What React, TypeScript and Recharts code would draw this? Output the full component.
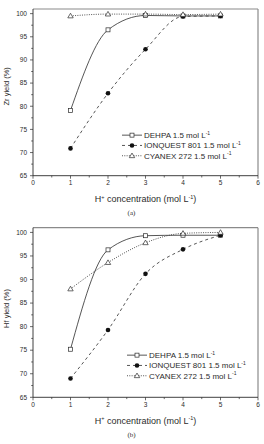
import React from 'react';
import { LineChart, Line, XAxis, YAxis, ReferenceLine } from 'recharts';

const FONT = '"Liberation Sans", Arial, sans-serif';
const INK = '#2b2b2b';

// H+ concentration (mol/L)
const concentrations = [1, 2, 3, 4, 5];
const xTicks = [0, 0.5, 1, 1.5, 2, 2.5, 3, 3.5, 4, 4.5, 5, 5.5, 6];
const yTicks = [65, 67.5, 70, 72.5, 75, 77.5, 80, 82.5, 85, 87.5, 90, 92.5, 95, 97.5, 100];

// (a) Zr yield (%)
const zrDehpa = [79.1, 96.5, 99.6, 99.5, 99.5];
const zrIonquest = [70.9, 82.8, 92.3, 99.4, 99.5];
const zrCyanex = [99.5, 99.9, 99.9, 99.8, 99.9];

// (b) Hf yield (%)
const hfDehpa = [75.2, 96.3, 99.3, 99.4, 99.4];
const hfIonquest = [69.0, 79.3, 91.2, 96.4, 99.4];
const hfCyanex = [88.0, 93.6, 97.8, 99.8, 100.0];

const seriesNames = ['DEHPA', 'IONQUEST 801', 'CYANEX 272'];
const dashes = ['', '3 3', '1 1.3'];

function buildRows(dehpa: number[], ionquest: number[], cyanex: number[]) {
  return concentrations.map((c, i) => ({
    c,
    dehpa: dehpa[i],
    ionquest: ionquest[i],
    cyanex: cyanex[i],
  }));
}

const squareDot = (p: any) => (
  <rect key={`sq-${p.index}`} x={p.cx - 2} y={p.cy - 2} width={4} height={4} fill="#fff" stroke={INK} strokeWidth={0.7} />
);
const circleDot = (p: any) => <circle key={`ci-${p.index}`} cx={p.cx} cy={p.cy} r={2.3} fill="#111" />;
const triangleDot = (p: any) => (
  <path
    key={`tr-${p.index}`}
    d={`M${p.cx},${p.cy - 2.7}L${p.cx - 2.7},${p.cy + 1.9}L${p.cx + 2.7},${p.cy + 1.9}Z`}
    fill="#fff"
    stroke={INK}
    strokeWidth={0.7}
  />
);
const markers = [squareDot, circleDot, triangleDot];

function XTick(props: any) {
  const { x, y, payload } = props;
  const major = Number.isInteger(payload.value);
  return (
    <g>
      <line x1={x} x2={x} y1={y} y2={y + (major ? 3 : 1.8)} stroke={INK} strokeWidth={0.7} />
      {major && (
        <text x={x} y={y + 9.5} textAnchor="middle" fontSize={6.5} fontFamily={FONT} fill={INK}>
          {payload.value}
        </text>
      )}
    </g>
  );
}

function YTick(props: any) {
  const { x, y, payload } = props;
  const major = payload.value % 5 === 0;
  return (
    <g>
      <line x1={x} x2={x - (major ? 3 : 1.8)} y1={y} y2={y} stroke={INK} strokeWidth={0.7} />
      {major && (
        <text x={x - 6} y={y + 2.3} textAnchor="end" fontSize={6.5} fontFamily={FONT} fill={INK}>
          {payload.value}
        </text>
      )}
    </g>
  );
}

// legend drawn as an overlay so it does not take room from the plot
function LegendBox({ left, top }: { left: number; top: number }) {
  const rowH = 10.3;
  return (
    <svg
      width={140}
      height={32}
      style={{ position: 'absolute', left, top, overflow: 'visible' }}
    >
      {seriesNames.map((name, i) => {
        const cy = rowH / 2 + i * rowH;
        return (
          <g key={name}>
            <line x1={0} x2={20} y1={cy} y2={cy} stroke={INK} strokeWidth={0.8} strokeDasharray={dashes[i] || undefined} />
            {markers[i]({ cx: 10, cy, index: i })}
            <text x={22} y={cy + 2.9} fontSize={8} fontFamily={FONT} fill={INK}>
              {name} 1.5 mol L<tspan fontSize={5} dy={-3.3}>-1</tspan>
            </text>
          </g>
        );
      })}
    </svg>
  );
}

interface PanelProps {
  top: number;
  height: number;
  plotTop: number;
  plotBottom: number;
  metal: string;
  tag: string;
  rows: any[];
  legendLeft: number;
  legendTop: number;
  yTitleShift: number;
}

function Panel({ top, height, plotTop, plotBottom, metal, tag, rows, legendLeft, legendTop, yTitleShift }: PanelProps) {
  const axisH = 40;
  return (
    <div style={{ position: 'absolute', left: 0, top, width: 264, height }}>
      <LineChart
        width={264}
        height={height}
        data={rows}
        margin={{ top: plotTop, right: 6, left: 0, bottom: height - plotBottom - axisH }}
      >
        <XAxis
          dataKey="c"
          type="number"
          domain={[0, 6]}
          ticks={xTicks}
          interval={0}
          height={axisH}
          tickSize={0}
          tickMargin={0}
          tick={<XTick />}
          axisLine={{ stroke: INK, strokeWidth: 0.9 }}
          label={{
            content: (lp: any) => {
              const vb = lp.viewBox || { x: 33, y: plotBottom, width: 225 };
              const cx = vb.x + vb.width / 2;
              return (
                <g>
                  <text x={cx} y={vb.y + 26.5} textAnchor="middle" fontSize={9} fontFamily={FONT} fill={INK}>
                    H<tspan fontSize={5.5} dy={-3.5}>+</tspan>
                    <tspan dy={3.5}> concentration (mol L</tspan>
                    <tspan fontSize={5.5} dy={-3.5}>-1</tspan>
                    <tspan dy={3.5}>)</tspan>
                  </text>
                  <text x={131.5} y={vb.y + 39.5} textAnchor="middle" fontSize={7} fontFamily='"Liberation Serif", serif' fill={INK}>
                    {tag}
                  </text>
                </g>
              );
            },
          }}
        />
        <YAxis
          type="number"
          domain={[65, 101]}
          ticks={yTicks}
          interval={0}
          width={33}
          tickSize={0}
          tickMargin={0}
          tick={<YTick />}
          allowDataOverflow
          axisLine={{ stroke: INK, strokeWidth: 0.9 }}
          label={{
            content: (lp: any) => {
              const vb = lp.viewBox || { x: 0, y: plotTop, height: plotBottom - plotTop };
              const cy = vb.y + vb.height / 2 + yTitleShift;
              return (
                <text
                  x={9}
                  y={cy}
                  transform={`rotate(-90, 9, ${cy})`}
                  textAnchor="middle"
                  fontSize={7.5}
                  fontFamily={FONT}
                  fill={INK}
                >
                  {metal} yield (%)
                </text>
              );
            },
          }}
        />
        <ReferenceLine y={101} stroke="#8a8a8a" strokeWidth={1.2} />
        <ReferenceLine x={6} stroke="#8a8a8a" strokeWidth={1.2} />
        <Line
          dataKey="dehpa"
          type="monotone"
          stroke={INK}
          strokeWidth={0.8}
          dot={squareDot}
          activeDot={false}
          isAnimationActive={false}
        />
        <Line
          dataKey="ionquest"
          type="monotone"
          stroke={INK}
          strokeWidth={0.8}
          strokeDasharray="3 3"
          dot={circleDot}
          activeDot={false}
          isAnimationActive={false}
        />
        <Line
          dataKey="cyanex"
          type="monotone"
          stroke={INK}
          strokeWidth={0.8}
          strokeDasharray="1 1.3"
          dot={triangleDot}
          activeDot={false}
          isAnimationActive={false}
        />
      </LineChart>
      <LegendBox left={legendLeft} top={legendTop} />
    </div>
  );
}

export default function App() {
  return (
    <div style={{ position: 'absolute', left: 0, top: 0, width: 264, height: 444, background: '#fff' }}>
      <Panel
        top={0}
        height={220}
        plotTop={9}
        plotBottom={175.7}
        metal="Zr"
        tag="(a)"
        rows={buildRows(zrDehpa, zrIonquest, zrCyanex)}
        legendLeft={122}
        legendTop={130}
        yTitleShift={-6}
      />
      <Panel
        top={220}
        height={224}
        plotTop={7.7}
        plotBottom={177.3}
        metal="Hf"
        tag="(b)"
        rows={buildRows(hfDehpa, hfIonquest, hfCyanex)}
        legendLeft={127}
        legendTop={129.5}
        yTitleShift={-4}
      />
    </div>
  );
}
